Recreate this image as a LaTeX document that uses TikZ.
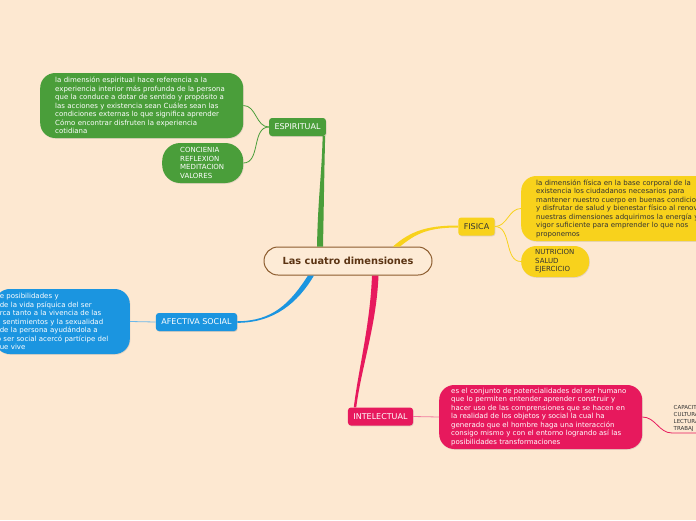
\documentclass[tikz,border=0pt]{standalone}
\usepackage{fontspec}
\setmainfont{DejaVu Sans}
\usepackage{xcolor}
\usepackage{tikz}
\usetikzlibrary{positioning, shadows}

\definecolor{paper}{HTML}{FDE8D1}
\definecolor{rootfill}{HTML}{FDEBD6}
\definecolor{rootline}{HTML}{8C5C2E}
\definecolor{roottext}{HTML}{5B3413}
\definecolor{espcol}{HTML}{4A9E3A}
\definecolor{fiscol}{HTML}{F8D21C}
\definecolor{afecol}{HTML}{1B95E0}
\definecolor{afelight}{HTML}{6CB8EA}
\definecolor{intcol}{HTML}{E7195D}
\definecolor{intlight}{HTML}{F07A9E}
\definecolor{darktext}{HTML}{333333}

\begin{document}
\begin{tikzpicture}[x=1pt, y=-1pt,
    rootnode/.style={draw=rootline, line width=1pt, fill=rootfill, rounded corners=14pt, minimum width=168pt, minimum height=28pt, inner sep=0pt, text=roottext, font=\fontsize{9.8}{11}\selectfont\bfseries},
    tnode/.style={rounded corners=3pt, minimum height=18pt, inner xsep=5.5pt, inner ysep=0pt, text=white, font=\fontsize{8}{10}\selectfont, drop shadow={opacity=0.25, shadow xshift=0.6pt, shadow yshift=-0.8pt}},
    dnode/.style={rounded corners=15pt, align=left, inner ysep=2pt, text=white, font=\fontsize{7}{8.5}\selectfont, drop shadow={opacity=0.2, shadow xshift=0.6pt, shadow yshift=-0.8pt}},
    sublink/.style={line width=0.8pt}
]
\useasboundingbox (0,0) rectangle (696,520);
\fill[paper] (0,0) rectangle (696,520);

% centre and main topics
\node[rootnode] (root) at (348,261) {Las cuatro dimensiones};
\node[tnode, fill=espcol] (esp) at (297.5,127) {ESPIRITUAL};
\node[tnode, fill=fiscol, text=darktext] (fis) at (476.5,226.5) {FISICA};
\node[tnode, fill=afecol] (afe) at (196.5,322) {AFECTIVA SOCIAL};
\node[tnode, fill=intcol] (intel) at (380.5,416.5) {INTELECTUAL};

% ESPIRITUAL
\node[dnode, fill=espcol, anchor=west, text width=173pt, inner xsep=15pt, minimum height=65pt] (espdesc) at (40,105.5) {la dimensión espiritual hace referencia a la\\ experiencia interior más profunda de la persona\\ que la conduce a dotar de sentido y propósito a\\ las acciones y existencia sean Cuáles sean las\\ condiciones externas lo que significa aprender\\ Cómo encontrar disfruten la experiencia\\ cotidiana};
\node[dnode, fill=espcol, anchor=west, text width=45pt, inner xsep=18pt, minimum height=40pt, rounded corners=18pt] (esplist) at (162,163) {CONCIENIA\\ REFLEXION\\ MEDITACION\\ VALORES};

% FISICA
\node[dnode, fill=fiscol, text=darktext, anchor=west, text width=200pt, inner xsep=15pt, minimum height=65pt] (fisdesc) at (521,208.5) {la dimensión física en la base corporal de la\\ existencia los ciudadanos necesarios para\\ mantener nuestro cuerpo en buenas condicion\\ y disfrutar de salud y bienestar físico al renov\\ nuestras dimensiones adquirimos la energía y\\ vigor suficiente para emprender lo que nos\\ proponemos};
\node[dnode, fill=fiscol, text=darktext, anchor=west, text width=40pt, inner xsep=14pt, minimum height=31pt] (fislist) at (521,261.5) {NUTRICION\\ SALUD\\ EJERCICIO};

% AFECTIVA SOCIAL
\node[dnode, fill=afecol, anchor=east, text width=125pt, inner xsep=5pt, minimum height=65pt] (afedesc) at (130,321.5) {e posibilidades y\\ de la vida psíquica del ser\\ rca tanto a la vivencia de las\\ \hspace*{3pt}sentimientos y la sexualidad\\ de la persona ayudándola a\\ \hspace*{-3pt}o ser social acercó partícipe del\\ ue vive};

% INTELECTUAL
\node[dnode, fill=intcol, anchor=west, text width=179pt, inner xsep=12pt, minimum height=64pt] (inteldesc) at (439,417) {es el conjunto de potencialidades del ser humano\\ que lo permiten entender aprender construir y\\ hacer uso de las comprensiones que se hacen en\\ la realidad de los objetos y social la cual ha\\ generado que el hombre haga una interacción\\ consigo mismo y con el entorno logrando así las\\ posibilidades transformaciones};
\node[anchor=south west, align=left, text width=30pt, inner xsep=1.5pt, inner ysep=1.5pt, text=darktext, font=\fontsize{5.5}{7}\selectfont] (cap) at (672,433) {CAPACIT\\ CULTURA\\ LECTURA\\ TRABAJ};

% main branches
\fill[espcol] ([xshift=-31pt]root.north) .. controls +(1,-50) and +(-1,40) .. ([xshift=-3.5pt]esp.south east) -- ([xshift=-1pt]esp.south east) .. controls +(-1,40) and +(1,-50) .. ([xshift=-25pt]root.north) -- cycle;
\fill[fiscol] ([xshift=45pt]root.north) .. controls +(18,-16) and +(-30,0) .. ([yshift=1pt]fis.west) -- ([yshift=-1pt]fis.west) .. controls +(-30,0) and +(16,-13) .. ([xshift=52pt]root.north) -- cycle;
\fill[afecol] ([xshift=-40pt]root.south) .. controls +(-18,28) and +(35,0) .. ([yshift=0.8pt]afe.east) -- ([yshift=-0.8pt]afe.east) .. controls +(37,0) and +(-16,27) .. ([xshift=-34pt]root.south) -- cycle;
\fill[intcol] ([xshift=24pt]root.south) .. controls +(-2,50) and +(5,-40) .. ([xshift=6pt]intel.north west) -- ([xshift=8.5pt]intel.north west) .. controls +(5,-40) and +(-2,50) .. ([xshift=30.5pt]root.south) -- cycle;

% sub links
\draw[sublink, espcol] (esp.west) to[out=180, in=0] (espdesc.east);
\draw[sublink, espcol] (esp.west) to[out=180, in=0] (esplist.east);
\draw[sublink, fiscol] (fis.east) to[out=0, in=180] (fisdesc.west);
\draw[sublink, fiscol] (fis.east) to[out=0, in=180] (fislist.west);
\draw[sublink, afelight] (afe.west) -- (afedesc.east);
\draw[sublink, intlight] (intel.east) -- (inteldesc.west);
\draw[sublink, intcol] (inteldesc.east) to[out=0, in=180] (cap.south west) -- (cap.south east);
\end{tikzpicture}
\end{document}
